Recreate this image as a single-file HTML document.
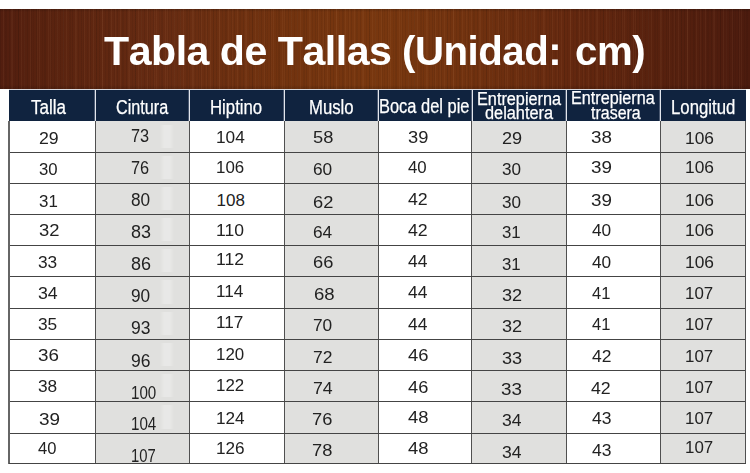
<!DOCTYPE html>
<html><head><meta charset="utf-8">
<style>
html,body{margin:0;padding:0;background:#fff;}
body{width:750px;height:473px;position:relative;overflow:hidden;font-family:"Liberation Sans",sans-serif;}
#banner{position:absolute;left:0;top:9px;width:750px;height:80px;
background:
 repeating-linear-gradient(90deg, rgba(0,0,0,0.07) 0 1px, rgba(0,0,0,0) 1px 3px, rgba(255,190,140,0.05) 3px 4px, rgba(0,0,0,0) 4px 6px, rgba(0,0,0,0.05) 6px 7px, rgba(0,0,0,0) 7px 9px),
 repeating-linear-gradient(90deg, rgba(0,0,0,0) 0 5px, rgba(0,0,0,0.06) 5px 6px, rgba(0,0,0,0) 6px 11px, rgba(255,190,140,0.04) 11px 12px, rgba(0,0,0,0) 12px 13px),
 linear-gradient(180deg, rgba(0,0,0,0.18) 0, rgba(0,0,0,0) 3px, rgba(0,0,0,0) 76px, rgba(0,0,0,0.12) 79px),
 linear-gradient(90deg, #521e0f 0%, #58220f 5%, #662b12 21%, #72330f 38%, #78370f 51%, #71320f 62%, #64280f 76%, #531f0e 92%, #4c1b0e 100%);}
.tt{position:absolute;font-kerning:none;letter-spacing:-0.5px;font-weight:bold;font-size:41.5px;color:#fff;white-space:nowrap;line-height:1;transform-origin:0 0;}
#hdr{position:absolute;left:9px;top:89px;width:737px;height:32px;background:#10233f;border-top:1px solid #d8d8dc;box-sizing:border-box;}
.col{position:absolute;top:121px;height:342px;}
.g{background:#e0e0de;}
.vl{position:absolute;width:1px;background:#505050;}
.hvl{position:absolute;width:1px;top:90px;height:31px;background:#e2e5ec;box-shadow:-1px 0 0 rgba(190,196,210,0.35);}
.hl{position:absolute;left:9px;width:737px;height:1px;background:#444;}
.h{position:absolute;color:#fff;-webkit-text-stroke:0.25px #fff;white-space:nowrap;transform-origin:0 0;line-height:1;}
.c{position:absolute;color:#222;font-size:17px;white-space:nowrap;line-height:1;transform-origin:0 0;}
.gm{position:absolute;left:160px;width:14px;background:linear-gradient(90deg,rgba(255,255,255,0) 0,rgba(255,255,255,0.28) 30%,rgba(255,255,255,0.28) 70%,rgba(255,255,255,0) 100%);filter:blur(0.6px);}
</style></head><body>
<div id="banner"></div>
<div class="tt" style="left:103.5px;top:30px;transform:scaleX(0.991)">Tabla de Tallas</div>
<div class="tt" style="left:402px;top:30px;transform:scaleX(0.969)">(Unidad:</div>
<div class="tt" style="left:575px;top:30px;transform:scaleX(0.969)">cm)</div>
<div id="hdr"></div>
<div class="col g" style="left:95px;width:95px"></div>
<div class="col g" style="left:284px;width:94px"></div>
<div class="col g" style="left:472px;width:94px"></div>
<div class="col g" style="left:660px;width:85px"></div>
<div class="gm" style="top:125px;height:23px"></div>
<div class="gm" style="top:156px;height:23px"></div>
<div class="gm" style="top:187px;height:23px"></div>
<div class="gm" style="top:218px;height:23px"></div>
<div class="gm" style="top:249px;height:23px"></div>
<div class="gm" style="top:280px;height:24px"></div>
<div class="gm" style="top:312px;height:23px"></div>
<div class="gm" style="top:343px;height:23px"></div>
<div class="gm" style="top:374px;height:23px"></div>
<div class="gm" style="top:405px;height:24px"></div>
<div class="hvl" style="left:95px"></div>
<div class="hvl" style="left:189px"></div>
<div class="hvl" style="left:284px"></div>
<div class="hvl" style="left:378px"></div>
<div class="hvl" style="left:472px"></div>
<div class="hvl" style="left:566px"></div>
<div class="hvl" style="left:660px"></div>
<div class="h" style="left:30.9px;top:97px;font-size:20px;transform:scaleX(0.851)">Talla</div>
<div class="h" style="left:116.0px;top:97px;font-size:20px;transform:scaleX(0.811)">Cintura</div>
<div class="h" style="left:210.0px;top:97px;font-size:20px;transform:scaleX(0.838)">Hiptino</div>
<div class="h" style="left:308.8px;top:97px;font-size:20px;transform:scaleX(0.835)">Muslo</div>
<div class="h" style="left:379.4px;top:96px;font-size:20px;transform:scaleX(0.822)">Boca del pie</div>
<div class="h" style="left:477.4px;top:90px;font-size:18px;transform:scaleX(0.903)">Entrepierna</div>
<div class="h" style="left:485.1px;top:104px;font-size:18px;transform:scaleX(0.907)">delantera</div>
<div class="h" style="left:571.2px;top:89px;font-size:18px;transform:scaleX(0.899)">Entrepierna</div>
<div class="h" style="left:590.8px;top:104px;font-size:18px;transform:scaleX(0.888)">trasera</div>
<div class="h" style="left:671.0px;top:97px;font-size:20px;transform:scaleX(0.838)">Longitud</div>
<div class="c" style="left:38.6px;top:130px;transform:scaleX(1.041)">29</div>
<div class="c" style="left:38.6px;top:161px;transform:scaleX(0.983)">30</div>
<div class="c" style="left:38.6px;top:193px;transform:scaleX(0.994)">31</div>
<div class="c" style="left:38.5px;top:222px;transform:scaleX(1.082)">32</div>
<div class="c" style="left:38.2px;top:254px;transform:scaleX(1.018)">33</div>
<div class="c" style="left:38.2px;top:285px;transform:scaleX(1.044)">34</div>
<div class="c" style="left:38.2px;top:316px;transform:scaleX(1.018)">35</div>
<div class="c" style="left:38.1px;top:347px;transform:scaleX(1.106)">36</div>
<div class="c" style="left:38.2px;top:378px;transform:scaleX(1.018)">38</div>
<div class="c" style="left:38.5px;top:411px;transform:scaleX(1.112)">39</div>
<div class="c" style="left:37.5px;top:440px;transform:scaleX(0.974)">40</div>
<div class="c" style="left:131.1px;top:127px;font-size:18.8px;transform:scaleX(0.868)">73</div>
<div class="c" style="left:131.1px;top:159px;font-size:18.8px;transform:scaleX(0.868)">76</div>
<div class="c" style="left:131.1px;top:191px;font-size:18.8px;transform:scaleX(0.916)">80</div>
<div class="c" style="left:131.0px;top:223px;font-size:18.8px;transform:scaleX(0.958)">83</div>
<div class="c" style="left:131.0px;top:255px;font-size:18.8px;transform:scaleX(0.958)">86</div>
<div class="c" style="left:131.1px;top:287px;font-size:18.8px;transform:scaleX(0.916)">90</div>
<div class="c" style="left:131.1px;top:319px;font-size:18.8px;transform:scaleX(0.932)">93</div>
<div class="c" style="left:131.1px;top:352px;font-size:18.8px;transform:scaleX(0.932)">96</div>
<div class="c" style="left:131.2px;top:384px;font-size:18.8px;transform:scaleX(0.807)">100</div>
<div class="c" style="left:131.2px;top:415px;font-size:18.8px;transform:scaleX(0.807)">104</div>
<div class="c" style="left:131.2px;top:447px;font-size:18.8px;transform:scaleX(0.790)">107</div>
<div class="c" style="left:215.9px;top:129px;transform:scaleX(1.015)">104</div>
<div class="c" style="left:216.1px;top:159px;transform:scaleX(0.993)">106</div>
<div class="c" style="left:216.6px;top:192px;transform:scaleX(1.000)">108</div>
<div class="c" style="left:216.1px;top:222px;transform:scaleX(1.031)">110</div>
<div class="c" style="left:216.1px;top:251px;transform:scaleX(1.031)">112</div>
<div class="c" style="left:216.1px;top:283px;transform:scaleX(1.012)">114</div>
<div class="c" style="left:216.1px;top:314px;transform:scaleX(1.012)">117</div>
<div class="c" style="left:216.1px;top:346px;transform:scaleX(0.993)">120</div>
<div class="c" style="left:216.1px;top:377px;transform:scaleX(0.993)">122</div>
<div class="c" style="left:216.1px;top:410px;transform:scaleX(1.011)">124</div>
<div class="c" style="left:216.1px;top:440px;transform:scaleX(1.011)">126</div>
<div class="c" style="left:313.0px;top:129px;transform:scaleX(1.076)">58</div>
<div class="c" style="left:313.1px;top:161px;transform:scaleX(1.017)">60</div>
<div class="c" style="left:313.0px;top:194px;transform:scaleX(1.076)">62</div>
<div class="c" style="left:313.1px;top:224px;transform:scaleX(1.017)">64</div>
<div class="c" style="left:313.0px;top:254px;transform:scaleX(1.076)">66</div>
<div class="c" style="left:313.7px;top:286px;transform:scaleX(1.094)">68</div>
<div class="c" style="left:313.1px;top:317px;transform:scaleX(1.017)">70</div>
<div class="c" style="left:313.1px;top:349px;transform:scaleX(1.029)">72</div>
<div class="c" style="left:313.1px;top:380px;transform:scaleX(1.044)">74</div>
<div class="c" style="left:312.2px;top:411px;transform:scaleX(1.076)">76</div>
<div class="c" style="left:312.2px;top:442px;transform:scaleX(1.076)">78</div>
<div class="c" style="left:407.5px;top:129px;transform:scaleX(1.076)">39</div>
<div class="c" style="left:408.1px;top:159px;transform:scaleX(0.989)">40</div>
<div class="c" style="left:408.1px;top:191px;transform:scaleX(1.044)">42</div>
<div class="c" style="left:408.1px;top:222px;transform:scaleX(1.044)">42</div>
<div class="c" style="left:408.1px;top:253px;transform:scaleX(1.026)">44</div>
<div class="c" style="left:408.1px;top:284px;transform:scaleX(1.026)">44</div>
<div class="c" style="left:408.1px;top:316px;transform:scaleX(1.026)">44</div>
<div class="c" style="left:408.1px;top:347px;transform:scaleX(1.083)">46</div>
<div class="c" style="left:407.6px;top:379px;transform:scaleX(1.072)">46</div>
<div class="c" style="left:408.1px;top:409px;transform:scaleX(1.083)">48</div>
<div class="c" style="left:408.1px;top:440px;transform:scaleX(1.083)">48</div>
<div class="c" style="left:501.7px;top:130px;transform:scaleX(1.065)">29</div>
<div class="c" style="left:501.8px;top:161px;transform:scaleX(1.006)">30</div>
<div class="c" style="left:501.8px;top:194px;transform:scaleX(1.006)">30</div>
<div class="c" style="left:501.8px;top:224px;transform:scaleX(0.988)">31</div>
<div class="c" style="left:501.8px;top:256px;transform:scaleX(0.988)">31</div>
<div class="c" style="left:501.7px;top:287px;transform:scaleX(1.065)">32</div>
<div class="c" style="left:501.7px;top:318px;transform:scaleX(1.065)">32</div>
<div class="c" style="left:501.7px;top:350px;transform:scaleX(1.065)">33</div>
<div class="c" style="left:501.0px;top:381px;transform:scaleX(1.106)">33</div>
<div class="c" style="left:501.8px;top:412px;transform:scaleX(1.033)">34</div>
<div class="c" style="left:501.8px;top:444px;transform:scaleX(1.033)">34</div>
<div class="c" style="left:591.0px;top:129px;transform:scaleX(1.106)">38</div>
<div class="c" style="left:591.0px;top:159px;transform:scaleX(1.106)">39</div>
<div class="c" style="left:591.0px;top:192px;transform:scaleX(1.106)">39</div>
<div class="c" style="left:591.6px;top:222px;transform:scaleX(1.016)">40</div>
<div class="c" style="left:591.6px;top:254px;transform:scaleX(1.016)">40</div>
<div class="c" style="left:592.1px;top:285px;transform:scaleX(0.972)">41</div>
<div class="c" style="left:591.6px;top:316px;transform:scaleX(0.972)">41</div>
<div class="c" style="left:591.6px;top:348px;transform:scaleX(1.028)">42</div>
<div class="c" style="left:590.8px;top:380px;transform:scaleX(1.044)">42</div>
<div class="c" style="left:591.6px;top:410px;transform:scaleX(1.028)">43</div>
<div class="c" style="left:591.6px;top:442px;transform:scaleX(1.028)">43</div>
<div class="c" style="left:685.1px;top:130px;transform:scaleX(1.022)">106</div>
<div class="c" style="left:685.1px;top:159px;transform:scaleX(1.022)">106</div>
<div class="c" style="left:685.1px;top:192px;transform:scaleX(1.022)">106</div>
<div class="c" style="left:685.1px;top:222px;transform:scaleX(1.022)">106</div>
<div class="c" style="left:685.1px;top:254px;transform:scaleX(1.022)">106</div>
<div class="c" style="left:685.1px;top:285px;transform:scaleX(0.993)">107</div>
<div class="c" style="left:685.1px;top:316px;transform:scaleX(0.993)">107</div>
<div class="c" style="left:685.1px;top:348px;transform:scaleX(0.993)">107</div>
<div class="c" style="left:685.1px;top:379px;transform:scaleX(0.993)">107</div>
<div class="c" style="left:685.1px;top:410px;transform:scaleX(0.993)">107</div>
<div class="c" style="left:685.1px;top:439px;transform:scaleX(0.993)">107</div>
<div class="vl" style="left:95px;top:121px;height:343px"></div>
<div class="vl" style="left:189px;top:121px;height:343px"></div>
<div class="vl" style="left:284px;top:121px;height:343px"></div>
<div class="vl" style="left:378px;top:121px;height:343px"></div>
<div class="vl" style="left:471px;top:121px;height:343px"></div>
<div class="vl" style="left:566px;top:121px;height:343px"></div>
<div class="vl" style="left:660px;top:121px;height:343px"></div>
<div class="hl" style="top:152px"></div>
<div class="hl" style="top:183px"></div>
<div class="hl" style="top:214px"></div>
<div class="hl" style="top:245px"></div>
<div class="hl" style="top:276px"></div>
<div class="hl" style="top:308px"></div>
<div class="hl" style="top:339px"></div>
<div class="hl" style="top:370px"></div>
<div class="hl" style="top:401px"></div>
<div class="hl" style="top:433px"></div>
<div class="vl" style="left:8px;top:121px;height:343px;width:2px;background:#666"></div>
<div class="vl" style="left:745px;top:121px;height:343px"></div>
<div class="hl" style="top:463px"></div>

</body></html>
